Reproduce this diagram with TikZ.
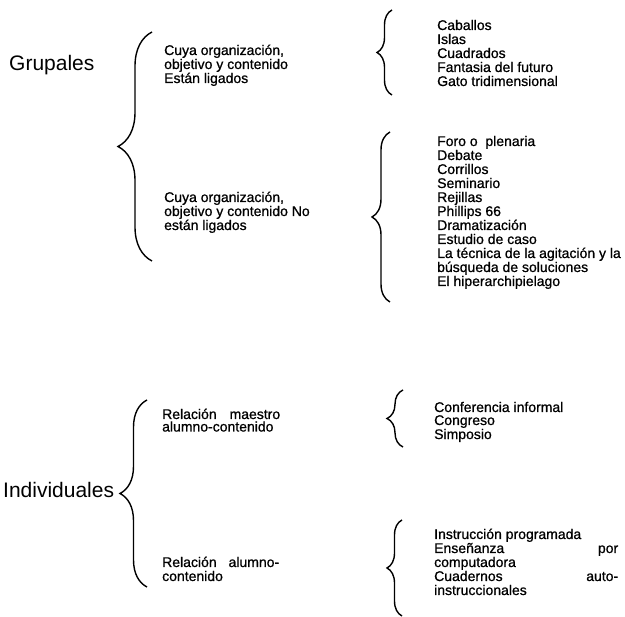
\documentclass[tikz,border=0pt]{standalone}
\usepackage{fontspec}
\setmainfont{Liberation Sans}
\newfontfamily\lstfont[FakeBold=0.8]{Liberation Sans}
\usetikzlibrary{decorations.pathreplacing}
\newcommand{\lst}[3]{\parbox[t]{#1}{\lstfont\fontsize{14}{#2}\selectfont\raggedright #3}}
\begin{document}
\begin{tikzpicture}[x=1pt,y=-1pt,
  bigtxt/.style={anchor=base west, inner sep=0pt, font=\fontsize{21}{24}\selectfont},
  lsttxt/.style={anchor=base west, inner sep=0pt},
  brc/.style={decorate, decoration={brace, amplitude=#1}, line width=1.4pt},
]
\useasboundingbox (0,0) rectangle (625,617);
\fill[white] (0,0) rectangle (625,617);

\node[bigtxt] (grup) at (9,71) {Grupales};
\node[bigtxt] (indiv) at (3,498) {Individuales};

\node[lsttxt] (a1) at (164,55) {\lst{200pt}{14pt}{Cuya organización,\\objetivo y contenido\\Están ligados}};
\node[lsttxt] (a2) at (164,202) {\lst{200pt}{14pt}{Cuya organización,\\objetivo y contenido No\\están ligados}};
\node[lsttxt] (b1) at (162,419) {\lst{118pt}{12.5pt}{Relación\hfill maestro\\alumno-contenido}};
\node[lsttxt] (b2) at (162,567) {\lst{117pt}{14pt}{Relación\hfill alumno-\\contenido}};

\node[lsttxt] (c1) at (437,30) {\lst{185pt}{14pt}{Caballos\\Islas\\Cuadrados\\Fantasia del futuro\\Gato tridimensional}};
\node[lsttxt] (c2) at (437,146) {\lst{188pt}{14pt}{Foro o~ plenaria\\Debate\\Corrillos\\Seminario\\Rejillas\\Phillips 66\\Dramatización\\Estudio de caso\\La técnica de la agitación y la\\búsqueda de soluciones\\El hiperarchipielago}};
\node[lsttxt] (c3) at (434,412) {\lst{185pt}{13pt}{Conferencia informal\\Congreso\\Simposio}};
\node[lsttxt] (c4) at (434,539) {\lst{184pt}{14pt}{Instrucción programada\\Enseñanza\hfill por\\computadora\\Cuadernos\hfill auto-\\instruccionales}};

\draw[brc=34pt] (152,261) -- (152,32);
\draw[brc=15pt] (392,95) -- (392,10);
\draw[brc=18pt] (390,302) -- (390,132);
\draw[brc=27pt] (147,587) -- (147,400);
\draw[brc=16pt] (403,447) -- (403,390);
\draw[brc=15pt] (402,616) -- (402,520);
\end{tikzpicture}
\end{document}
